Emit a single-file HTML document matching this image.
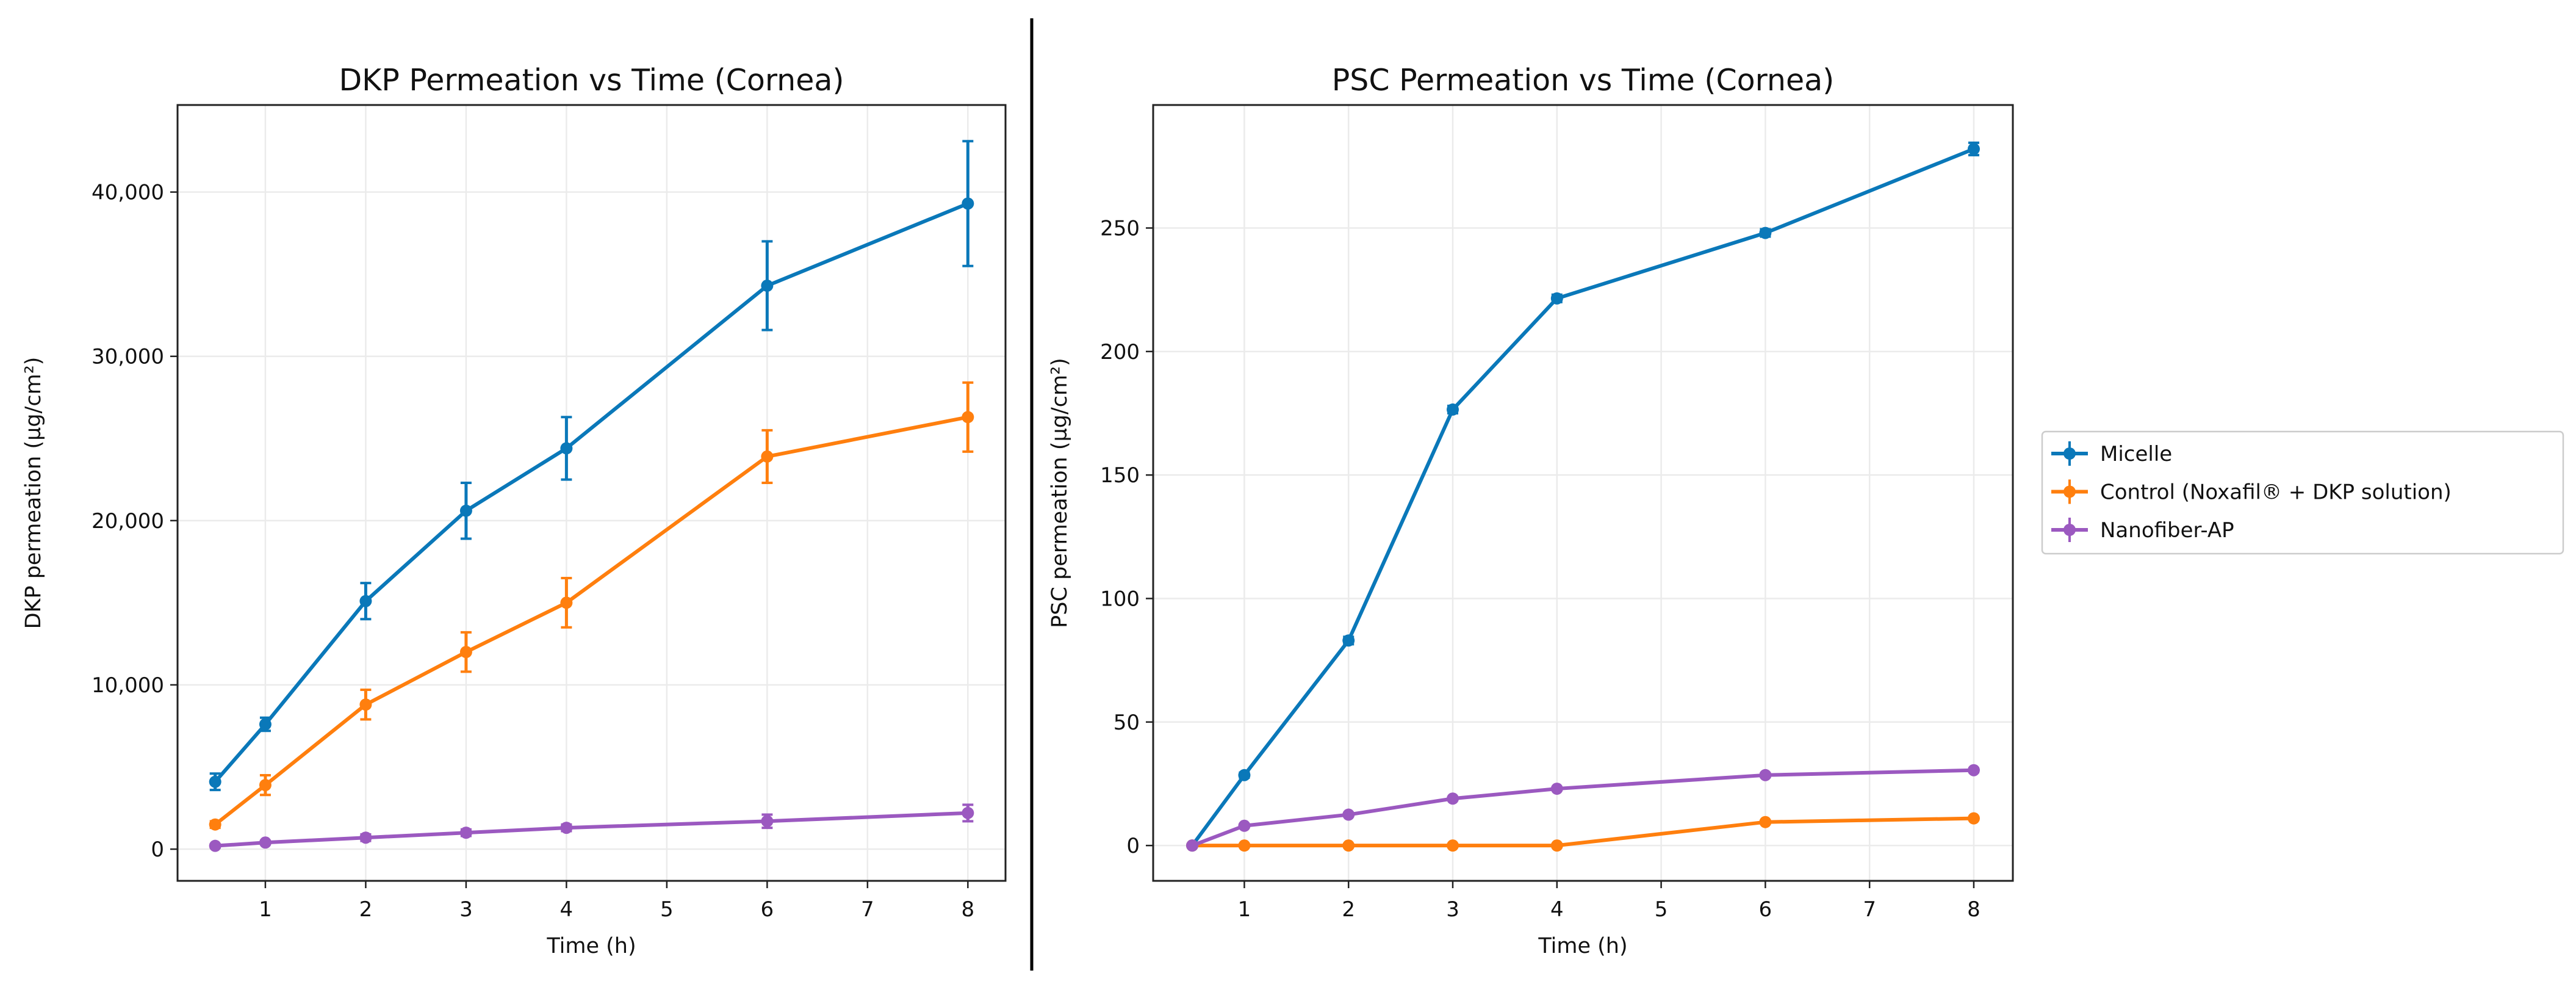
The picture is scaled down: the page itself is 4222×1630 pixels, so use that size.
<!DOCTYPE html>
<html><head><meta charset="utf-8"><style>
html,body{margin:0;padding:0;background:#fff;}
svg{display:block;font-family:"DejaVu Sans","Liberation Sans",sans-serif;}
</style></head><body>
<svg id="c" width="4222" height="1630" viewBox="0 0 4222 1630" xmlns="http://www.w3.org/2000/svg">
<line x1="1691" y1="30" x2="1691" y2="1590" stroke="#000" stroke-width="5"/>
</svg>
<script>
const times = [0.5, 1, 2, 3, 4, 6, 8];
const xTicks = [1, 2, 3, 4, 5, 6, 7, 8];
const seriesNames = ["Micelle", "Control (Noxafil® + DKP solution)", "Nanofiber-AP"];
const dkpMicelle = [4100, 7600, 15100, 20600, 24400, 34300, 39300];
const dkpMicelleErr = [500, 400, 1100, 1700, 1900, 2700, 3800];
const dkpControl = [1500, 3900, 8800, 12000, 15000, 23900, 26300];
const dkpControlErr = [200, 600, 900, 1200, 1500, 1600, 2100];
const dkpNano = [200, 400, 700, 1000, 1300, 1700, 2200];
const dkpNanoErr = [100, 100, 200, 200, 200, 400, 500];
const dkpTicks = [0, 10000, 20000, 30000, 40000];
const dkpTickLabels = ["0", "10,000", "20,000", "30,000", "40,000"];
const pscMicelle = [0, 28.5, 83, 176.5, 221.5, 248, 282];
const pscMicelleErr = [0.5, 1, 1.5, 1.5, 1.5, 1.5, 2.5];
const pscControl = [0, 0, 0, 0, 0, 9.5, 11];
const pscControlErr = [0.3, 0.3, 0.3, 0.3, 0.3, 0.5, 0.5];
const pscNano = [0, 8, 12.5, 19, 23, 28.5, 30.5];
const pscNanoErr = [0.3, 0.5, 0.5, 0.5, 0.5, 0.8, 0.8];
const pscTicks = [0, 50, 100, 150, 200, 250];
const pscTickLabels = ["0", "50", "100", "150", "200", "250"];
const colors = ["#0a78b9", "#ff7f0e", "#9b59c0"];

const NS = "http://www.w3.org/2000/svg";
const svg = document.getElementById("c");
function el(tag, attrs, parent) {
  const e = document.createElementNS(NS, tag);
  for (const k in attrs) e.setAttribute(k, attrs[k]);
  (parent || svg).appendChild(e);
  return e;
}
function panel(cfg) {
  const g = el("g", {});
  
  
  const X = v => cfg.x0 + (v - 0.125) / (8.375 - 0.125) * (cfg.x1 - cfg.x0);
  const Y = v => cfg.y1 - (v - cfg.ymin) / (cfg.ymax - cfg.ymin) * (cfg.y1 - cfg.y0);
  xTicks.forEach(t => {
    const gl = el("line", {x1: X(t), x2: X(t), y1: cfg.y0, y2: cfg.y1, stroke: "#ebebeb", "stroke-width": 2.5}, g);
    
    
    const tk = el("line", {x1: X(t), x2: X(t), y1: cfg.y1, y2: cfg.y1 + 12, stroke: "#222", "stroke-width": 2.5}, g);
    
    
    const tl = el("text", {x: X(t), y: cfg.y1 + 58, "text-anchor": "middle", "font-size": 34, fill: "#111"}, g);
    tl.textContent = t;
    
    
  });
  cfg.ticks.forEach((t, i) => {
    const gl = el("line", {x1: cfg.x0, x2: cfg.x1, y1: Y(t), y2: Y(t), stroke: "#ebebeb", "stroke-width": 2.5}, g);
    
    
    const tk = el("line", {x1: cfg.x0 - 12, x2: cfg.x0, y1: Y(t), y2: Y(t), stroke: "#222", "stroke-width": 2.5}, g);
    
    
    const tl = el("text", {x: cfg.x0 - 22, y: Y(t) + 12, "text-anchor": "end", "font-size": 34, fill: "#111"}, g);
    tl.textContent = cfg.labels[i];
    
    
  });
  cfg.series.forEach((s, si) => {
    const c = colors[si];
    const sg = el("g", {}, g);
    
    
    s.v.forEach((v, i) => {
      const x = X(times[i]);
      const e1 = el("line", {x1: x, x2: x, y1: Y(v - s.e[i]), y2: Y(v + s.e[i]), stroke: c, "stroke-width": 5}, sg);
      
      
      [v - s.e[i], v + s.e[i]].forEach(yy => {
        const cap = el("line", {x1: x - 9, x2: x + 9, y1: Y(yy), y2: Y(yy), stroke: c, "stroke-width": 4}, sg);
        
        
      });
    });
    const pl = el("polyline", {points: s.v.map((v, i) => X(times[i]) + "," + Y(v)).join(" "), fill: "none", stroke: c, "stroke-width": 6, "stroke-linejoin": "round"}, sg);
    
    
    s.v.forEach((v, i) => {
      const m = el("circle", {cx: X(times[i]), cy: Y(v), r: 10, fill: c}, sg);
      
      
    });
  });
  const box = el("rect", {x: cfg.x0, y: cfg.y0, width: cfg.x1 - cfg.x0, height: cfg.y1 - cfg.y0, fill: "none", stroke: "#222", "stroke-width": 3}, g);
  
  
  const title = el("text", {x: (cfg.x0 + cfg.x1) / 2, y: 148, "text-anchor": "middle", "font-size": 49, fill: "#111"}, g);
  title.textContent = cfg.title;
  
  
  const xl = el("text", {x: (cfg.x0 + cfg.x1) / 2, y: 1561, "text-anchor": "middle", "font-size": 35, fill: "#111"}, g);
  xl.textContent = "Time (h)";
  
  
  const yc = (cfg.y0 + cfg.y1) / 2;
  const yl = el("text", {x: cfg.ylx, y: yc, "text-anchor": "middle", "font-size": 35, fill: "#111", transform: "rotate(-90 " + cfg.ylx + " " + yc + ")"}, g);
  yl.textContent = cfg.ylabel;
  
  
}
panel({name: "dkp-panel", x0: 291, x1: 1648, y0: 172, y1: 1443, ymin: -1930, ymax: 45300,
  ticks: dkpTicks, labels: dkpTickLabels, title: "DKP Permeation vs Time (Cornea)", ylabel: "DKP permeation (µg/cm²)", ylx: 66,
  series: [{v: dkpMicelle, e: dkpMicelleErr}, {v: dkpControl, e: dkpControlErr}, {v: dkpNano, e: dkpNanoErr}]});
panel({name: "psc-panel", x0: 1890, x1: 3299, y0: 172, y1: 1443, ymin: -14.3, ymax: 299.8,
  ticks: pscTicks, labels: pscTickLabels, title: "PSC Permeation vs Time (Cornea)", ylabel: "PSC permeation (µg/cm²)", ylx: 1748,
  series: [{v: pscMicelle, e: pscMicelleErr}, {v: pscControl, e: pscControlErr}, {v: pscNano, e: pscNanoErr}]});

const lg = el("g", {});


const lb = el("rect", {x: 3347, y: 707, width: 854, height: 200, rx: 6, fill: "#fff", stroke: "#ccc", "stroke-width": 2.5}, lg);


seriesNames.forEach((n, i) => {
  const y = 743 + i * 62.5;
  const eg = el("g", {}, lg);
  
  
  const ln = el("line", {x1: 3362, x2: 3422, y1: y, y2: y, stroke: colors[i], "stroke-width": 6}, eg);
  
  
  const eb = el("line", {x1: 3392, x2: 3392, y1: y - 20, y2: y + 20, stroke: colors[i], "stroke-width": 4}, eg);
  
  
  const mk = el("circle", {cx: 3392, cy: y, r: 10, fill: colors[i]}, eg);
  
  
  const t = el("text", {x: 3442, y: y + 12, "font-size": 34, fill: "#111"}, eg);
  t.textContent = n;
  
  
});
</script>
</body></html>
